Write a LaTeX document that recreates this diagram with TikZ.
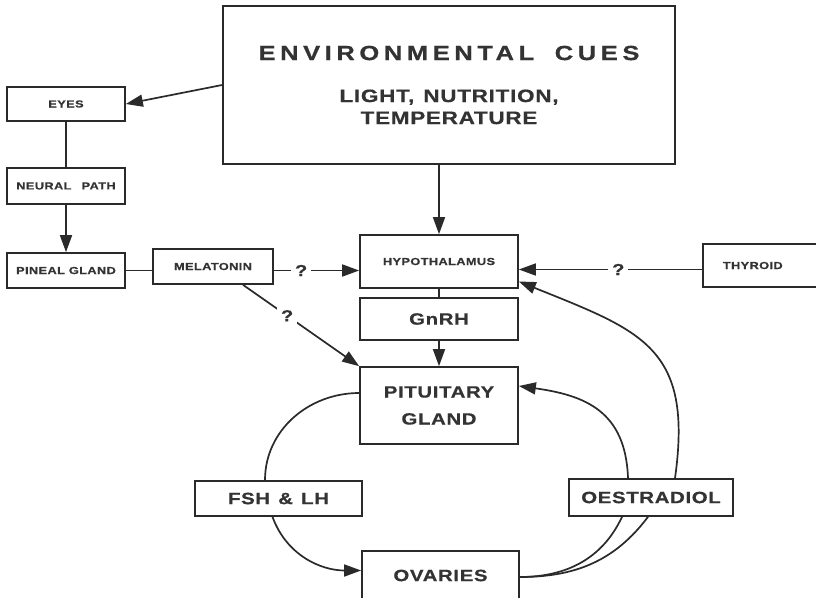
\documentclass[tikz,border=0pt]{standalone}
\usepackage{fontspec}
\setmainfont{Liberation Sans}[FakeStretch=1.25, LetterSpace=4, BoldFeatures={FakeBold=0.6}]
\usetikzlibrary{arrows.meta, positioning}
\definecolor{ink}{HTML}{2A2A2A}
\definecolor{txt}{HTML}{333333}

\begin{document}
\begin{tikzpicture}[
  x=1pt, y=1pt,
  >={Triangle[length=17pt, width=12pt]},
  smallbox/.style={draw=ink, line width=1.7pt, inner sep=0pt, text=txt,
    font=\bfseries\fontsize{10.2}{12}\selectfont},
  midbox/.style={draw=ink, line width=1.7pt, inner sep=0pt, text=txt, align=center,
    font=\bfseries\fontsize{16.3}{19}\selectfont},
  conn/.style={draw=ink, line width=1.7pt},
  arr/.style={conn, ->},
  qmark/.style={fill=white, text=txt, inner sep=4pt, font=\bfseries\fontsize{16}{19}\selectfont},
]

% Background
\fill[white] (0,0) rectangle (816,-597);
\useasboundingbox (0,0) rectangle (816,-597);

% === Environmental cues ===
\node[draw=ink, line width=1.8pt, minimum width=452pt, minimum height=158pt, text=txt,
  align=center, font=\bfseries\fontsize{18}{22}\selectfont] (env) at (449,-85)
  {{\fontsize{20.5}{24}\selectfont\addfontfeature{LetterSpace=22}ENVIRONMENTAL\quad CUES}\\[20pt]
   LIGHT,\enspace NUTRITION,\\TEMPERATURE};

% === Left column: eye pathway ===
\node[smallbox, minimum width=118pt, minimum height=34pt] (eyes) at (66,-104) {EYES};
\node[smallbox, minimum width=118pt, minimum height=36pt] (neural) at (66,-186) {NEURAL\quad PATH};
\node[smallbox, minimum width=118pt, minimum height=35pt] (pineal) at (66,-270.5) {PINEAL GLAND};
\node[smallbox, minimum width=120pt, minimum height=35pt] (melatonin) at (213,-266.5) {MELATONIN};

% === Centre column ===
\node[smallbox, minimum width=158pt, minimum height=53pt] (hypo) at (439,-261.5) {HYPOTHALAMUS};
\node[midbox, minimum width=158pt, minimum height=42pt] (gnrh) at (439,-319) {GnRH};
\node[midbox, minimum width=158pt, minimum height=77pt] (pituitary) at (439,-405.5) {PITUITARY\\[8pt]GLAND};
\node[midbox, minimum width=157pt, minimum height=49pt] (ovaries) at (440.5,-575.5) {OVARIES};

% === Right and lower nodes ===
\node[smallbox, anchor=west, minimum width=124pt, minimum height=43pt, text width=84pt,
  inner xsep=20pt, align=left] (thyroid) at (702,-265.5) {THYROID};
\node[midbox, minimum width=167pt, minimum height=35pt] (fsh) at (278.5,-498.5) {FSH\enspace\&\enspace LH};
\node[midbox, minimum width=164pt, minimum height=37pt] (oestradiol) at (651,-497.5) {OESTRADIOL};

% === Connectors ===
\draw[arr] (env.west) -- (eyes.east);
\draw[arr] (env.south -| hypo.north) -- (hypo.north);
\draw[conn] (eyes.south) -- (neural.north);
\draw[arr] (neural.south) -- (pineal.north);
\draw[conn] (pineal.east) -- (pineal.east -| melatonin.west);
\draw[arr] ([yshift=-4pt]melatonin.east) -- node[qmark, pos=0.32] {?} ([yshift=-4pt]melatonin.east -| hypo.west);
\draw[arr] ([xshift=30pt]melatonin.south) -- node[qmark, pos=0.38] {?} (pituitary.north west);
\draw[conn] (hypo.south) -- (gnrh.north);
\draw[arr] (gnrh.south) -- (pituitary.north);
\draw[arr] ([yshift=-4pt]thyroid.west) -- node[qmark, pos=0.457] {?} ([yshift=-4pt]thyroid.west -| hypo.east);

% feedback loops
\draw[arr] ([xshift=24pt]oestradiol.north) to[out=82, in=-22, looseness=1.35] ([yshift=-20pt]hypo.east);
\draw[arr] ([xshift=-23pt]oestradiol.north) to[out=92, in=-8, looseness=1.2] ([yshift=19.5pt]pituitary.east);
\draw[conn] ([yshift=12.5pt]pituitary.west) to[out=180, in=90] ([xshift=-13.5pt]fsh.north);
\draw[arr] ([xshift=-6pt]fsh.south) to[out=-70, in=180] ([yshift=5pt]ovaries.west);
\draw[conn] ([yshift=-1.5pt]ovaries.east) to[out=0, in=-115] ([xshift=-29pt]oestradiol.south);
\draw[conn] ([yshift=-1.5pt]ovaries.east) to[out=0, in=-127] ([xshift=-3pt]oestradiol.south);

\end{tikzpicture}
\end{document}
